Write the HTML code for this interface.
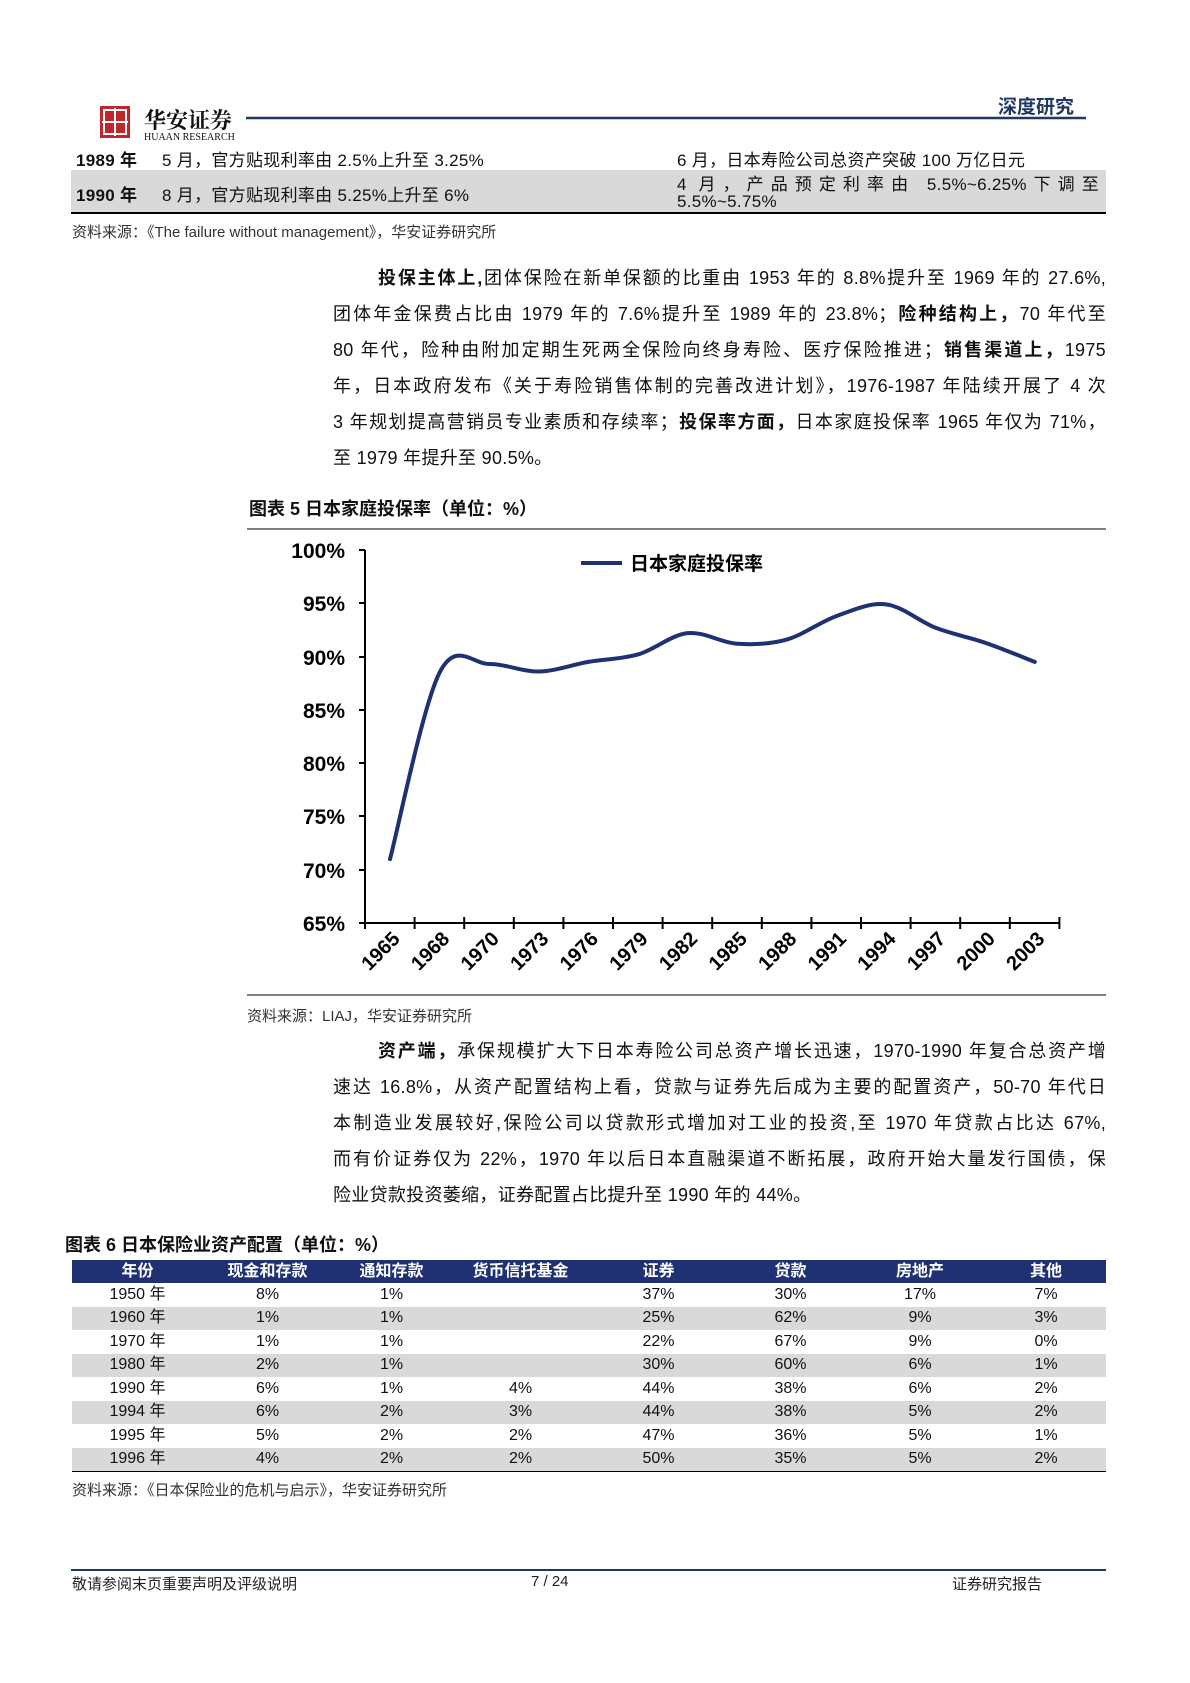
<!DOCTYPE html>
<html><head><meta charset="utf-8"><style>
body{margin:0;width:1190px;height:1683px;position:relative;background:#fff;font-family:"Liberation Sans","Noto Sans CJK SC",sans-serif;color:#111;overflow:hidden}
.a{position:absolute;white-space:nowrap}
.p{font-size:18px;letter-spacing:0.3px}
.j{text-align:justify;text-align-last:justify;white-space:normal}
.s{font-size:15px;color:#333}
b{font-weight:bold}
table{border-collapse:collapse}
td{padding:0;line-height:22px}
</style></head><body>
<svg class="a" style="left:0;top:0" width="1190" height="150">
<rect x="100" y="106" width="30" height="32" fill="#c0262c"/>
<rect x="104" y="110" width="22" height="24" fill="none" stroke="#fff" stroke-width="2"/>
<line x1="115" y1="108" x2="115" y2="136" stroke="#fff" stroke-width="2"/>
<line x1="102" y1="122" x2="128" y2="122" stroke="#fff" stroke-width="2"/>
<line x1="246" y1="118" x2="1086" y2="118" stroke="#1f3864" stroke-width="2.5"/>
</svg>
<div class="a" style="left:144px;top:104px;font-size:22px;font-weight:bold;font-family:'Noto Serif CJK SC',serif">华安证券</div>
<div class="a" style="left:144px;top:132px;font-size:10px;font-family:'Liberation Serif',serif">HUAAN RESEARCH</div>
<div class="a" style="left:998px;top:92px;font-size:19px;font-weight:bold;color:#1f3864">深度研究</div>
<div class="a" style="left:71px;top:170px;width:1035px;height:42px;background:#d9d9d9"></div>
<div class="a" style="left:71px;top:212px;width:1035px;height:2px;background:#000"></div>
<div class="a p" style="left:76px;top:146px;font-size:17px"><b>1989 年</b></div>
<div class="a p" style="left:162px;top:146px;font-size:17px">5 月，官方贴现利率由 2.5%上升至 3.25%</div>
<div class="a p" style="left:677px;top:146px;font-size:17px">6 月，日本寿险公司总资产突破 100 万亿日元</div>
<div class="a p" style="left:76px;top:181px;font-size:17px"><b>1990 年</b></div>
<div class="a p" style="left:162px;top:181px;font-size:17px">8 月，官方贴现利率由 5.25%上升至 6%</div>
<div class="a p j" style="left:677px;top:170px;width:422px;font-size:17px">4 月，产品预定利率由 5.5%~6.25%下调至</div>
<div class="a p" style="left:677px;top:192px;font-size:17px">5.5%~5.75%</div>
<div class="a s" style="left:72px;top:221px">资料来源：《The failure without management》，华安证券研究所</div>
<div class="a p j" style="left:378px;top:264px;width:728px"><b>投保主体上,</b>团体保险在新单保额的比重由 1953 年的 8.8%提升至 1969 年的 27.6%,</div>
<div class="a p j" style="left:333px;top:300px;width:773px">团体年金保费占比由 1979 年的 7.6%提升至 1989 年的 23.8%；<b>险种结构上，</b>70 年代至</div>
<div class="a p j" style="left:333px;top:336px;width:773px">80 年代，险种由附加定期生死两全保险向终身寿险、医疗保险推进；<b>销售渠道上，</b>1975</div>
<div class="a p j" style="left:333px;top:372px;width:773px">年，日本政府发布《关于寿险销售体制的完善改进计划》，1976-1987 年陆续开展了 4 次</div>
<div class="a p j" style="left:333px;top:408px;width:773px">3 年规划提高营销员专业素质和存续率；<b>投保率方面，</b>日本家庭投保率 1965 年仅为 71%，</div>
<div class="a p" style="left:333px;top:444px">至 1979 年提升至 90.5%。</div>
<div class="a" style="left:249px;top:495px;font-size:18px;font-weight:bold">图表 5 日本家庭投保率（单位：%）</div>
<svg class="a" style="left:0;top:0" width="1190" height="1040">
<line x1="247" y1="529" x2="1106" y2="529" stroke="#000" stroke-width="1"/>
<line x1="247" y1="995" x2="1106" y2="995" stroke="#000" stroke-width="1"/>
<g stroke="#000" stroke-width="2">
<line x1="365" y1="550" x2="365" y2="923"/>
<line x1="365" y1="923" x2="1059" y2="923"/>
<line x1="359" y1="550" x2="365" y2="550"/><line x1="359" y1="603" x2="365" y2="603"/><line x1="359" y1="657" x2="365" y2="657"/><line x1="359" y1="710" x2="365" y2="710"/><line x1="359" y1="763" x2="365" y2="763"/><line x1="359" y1="816" x2="365" y2="816"/><line x1="359" y1="870" x2="365" y2="870"/><line x1="359" y1="923" x2="365" y2="923"/>
</g>
<g id="xt" stroke="#000" stroke-width="2"></g>
<g font-family="Liberation Sans,sans-serif" font-weight="bold" font-size="21" text-anchor="end">
<text x="345" y="558">100%</text><text x="345" y="611">95%</text><text x="345" y="665">90%</text><text x="345" y="718">85%</text><text x="345" y="771">80%</text><text x="345" y="824">75%</text><text x="345" y="878">70%</text><text x="345" y="931">65%</text>
</g>
<g id="xl" font-family="Liberation Sans,sans-serif" font-weight="bold" font-size="20" text-anchor="end"></g>
<line x1="581" y1="563" x2="622" y2="563" stroke="#1f3073" stroke-width="4"/>
<text x="630" y="570" font-family="Noto Sans CJK SC,sans-serif" font-weight="bold" font-size="19">日本家庭投保率</text>
<path id="cv" fill="none" stroke="#1f3073" stroke-width="4" stroke-linecap="round"/>
</svg>
<div class="a s" style="left:247px;top:1005px">资料来源：LIAJ，华安证券研究所</div>
<div class="a p j" style="left:378px;top:1037px;width:728px"><b>资产端，</b>承保规模扩大下日本寿险公司总资产增长迅速，1970-1990 年复合总资产增</div>
<div class="a p j" style="left:333px;top:1073px;width:773px">速达 16.8%，从资产配置结构上看，贷款与证券先后成为主要的配置资产，50-70 年代日</div>
<div class="a p j" style="left:333px;top:1109px;width:773px">本制造业发展较好,保险公司以贷款形式增加对工业的投资,至 1970 年贷款占比达 67%,</div>
<div class="a p j" style="left:333px;top:1145px;width:773px">而有价证券仅为 22%，1970 年以后日本直融渠道不断拓展，政府开始大量发行国债，保</div>
<div class="a p" style="left:333px;top:1181px">险业贷款投资萎缩，证券配置占比提升至 1990 年的 44%。</div>
<div class="a" style="left:65px;top:1231px;font-size:18px;font-weight:bold">图表 6 日本保险业资产配置（单位：%）</div>
<table class="a" style="left:72px;top:1260px;width:1034px;font-size:16px;text-align:center">
<colgroup><col style="width:131px"><col style="width:129px"><col style="width:119px"><col style="width:139px"><col style="width:137px"><col style="width:127px"><col style="width:132px"><col></colgroup>
<tr style="background:#1f3073;color:#fff;font-weight:bold;height:23px"><td>年份</td><td>现金和存款</td><td>通知存款</td><td>货币信托基金</td><td>证券</td><td>贷款</td><td>房地产</td><td>其他</td></tr>
<tr style="height:23.5px"><td>1950 年</td><td>8%</td><td>1%</td><td></td><td>37%</td><td>30%</td><td>17%</td><td>7%</td></tr>
<tr style="height:23.5px;background:#d9d9d9"><td>1960 年</td><td>1%</td><td>1%</td><td></td><td>25%</td><td>62%</td><td>9%</td><td>3%</td></tr>
<tr style="height:23.5px"><td>1970 年</td><td>1%</td><td>1%</td><td></td><td>22%</td><td>67%</td><td>9%</td><td>0%</td></tr>
<tr style="height:23.5px;background:#d9d9d9"><td>1980 年</td><td>2%</td><td>1%</td><td></td><td>30%</td><td>60%</td><td>6%</td><td>1%</td></tr>
<tr style="height:23.5px"><td>1990 年</td><td>6%</td><td>1%</td><td>4%</td><td>44%</td><td>38%</td><td>6%</td><td>2%</td></tr>
<tr style="height:23.5px;background:#d9d9d9"><td>1994 年</td><td>6%</td><td>2%</td><td>3%</td><td>44%</td><td>38%</td><td>5%</td><td>2%</td></tr>
<tr style="height:23.5px"><td>1995 年</td><td>5%</td><td>2%</td><td>2%</td><td>47%</td><td>36%</td><td>5%</td><td>1%</td></tr>
<tr style="height:23.5px;background:#d9d9d9;border-bottom:1.5px solid #000"><td>1996 年</td><td>4%</td><td>2%</td><td>2%</td><td>50%</td><td>35%</td><td>5%</td><td>2%</td></tr>
</table>
<div class="a s" style="left:72px;top:1479px">资料来源：《日本保险业的危机与启示》，华安证券研究所</div>
<div class="a" style="left:71px;top:1569px;width:1035px;height:2px;background:#1f3864"></div>
<div class="a s" style="left:72px;top:1573px;color:#222">敬请参阅末页重要声明及评级说明</div>
<div class="a s" style="left:531px;top:1573px;color:#222">7 / 24</div>
<div class="a s" style="left:952px;top:1573px;color:#222">证券研究报告</div>
<script>
var xt=document.getElementById('xt'),xl=document.getElementById('xl'),ns='http://www.w3.org/2000/svg';
var yrs=['1965','1968','1970','1973','1976','1979','1982','1985','1988','1991','1994','1997','2000','2003'];
for(var i=0;i<=14;i++){var l=document.createElementNS(ns,'line');var x=365+i*49.6;l.setAttribute('x1',x);l.setAttribute('x2',x);l.setAttribute('y1',917);l.setAttribute('y2',929);xt.appendChild(l);}
yrs.forEach(function(y,i){var t=document.createElementNS(ns,'text');var x=365+i*49.6+36;t.setAttribute('transform','translate('+x+',940) rotate(-45)');t.textContent=y;xl.appendChild(t);});
var v=[71,88.5,89.3,88.6,89.5,90.2,92.2,91.2,91.6,93.8,94.9,92.7,91.3,89.5];
var p=v.map(function(d,i){return [390+i*49.6,923-(d-65)*10.657];});
var s='M'+p[0];for(var i=0;i<p.length-1;i++){var a=p[i-1]||p[i],b=p[i],c=p[i+1],d=p[i+2]||c;
s+=' C'+(b[0]+(c[0]-a[0])/6)+','+(b[1]+(c[1]-a[1])/6)+' '+(c[0]-(d[0]-b[0])/6)+','+(c[1]-(d[1]-b[1])/6)+' '+c[0]+','+c[1];}
document.getElementById('cv').setAttribute('d',s);
</script>
</body></html>
